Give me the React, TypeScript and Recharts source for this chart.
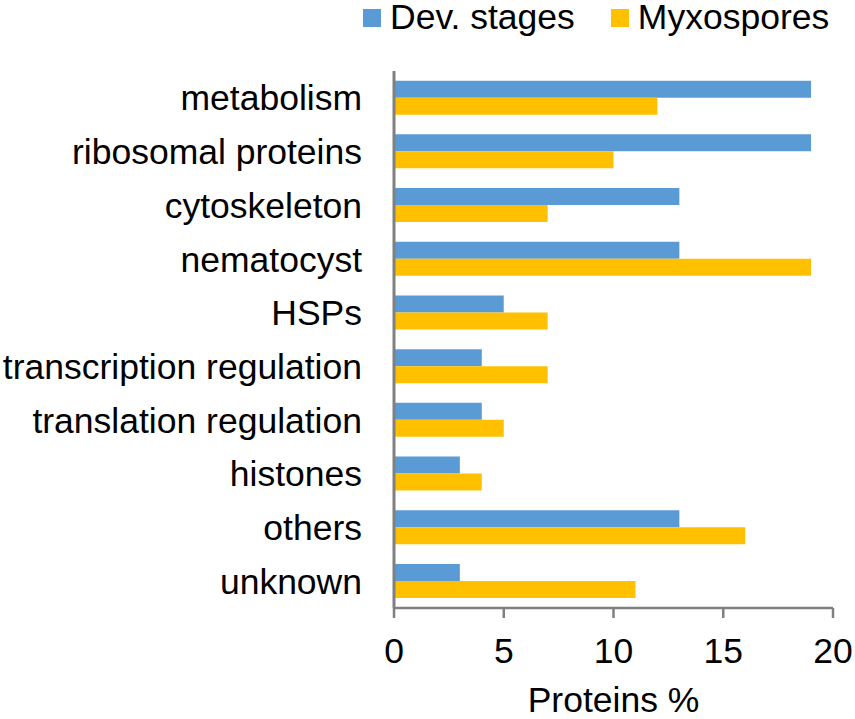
import React from "react";
import { Bar, BarChart, Legend, XAxis, YAxis } from "recharts";

const categories = [
  "metabolism",
  "ribosomal proteins",
  "cytoskeleton",
  "nematocyst",
  "HSPs",
  "transcription regulation",
  "translation regulation",
  "histones",
  "others",
  "unknown",
];
const devStages = [19, 19, 13, 13, 5, 4, 4, 3, 13, 3];
const myxospores = [12, 10, 7, 19, 7, 7, 5, 4, 16, 11];
const xTicks = [0, 5, 10, 15, 20];

const data = categories.map((name, i) => ({
  name,
  dev: devStages[i],
  myxo: myxospores[i],
}));

const FONT = '"Liberation Sans", Arial, sans-serif';
const AXIS = "#808080";
const FS = 35.5;

function LegendBox({ payload }: any) {
  return (
    <div
      style={{
        display: "flex",
        alignItems: "center",
        height: 36,
        paddingLeft: 363,
        fontFamily: FONT,
        fontSize: FS,
        lineHeight: 1,
        color: "#000",
      }}
    >
      {(payload || []).map((p: any, i: number) => (
        <div key={p.value} style={{ display: "flex", alignItems: "center", marginRight: i === 0 ? 36 : 0 }}>
          <span style={{ width: 18, height: 18, background: p.color, display: "inline-block", marginRight: 9 }} />
          <span>{p.value}</span>
        </div>
      ))}
    </div>
  );
}

export default function App() {
  return (
    <div style={{ position: "absolute", left: 0, top: 0, width: 855, height: 719, background: "#fff" }}>
      <BarChart
        width={855}
        height={719}
        data={data}
        layout="vertical"
        margin={{ top: 35, right: 22, left: 0, bottom: 0 }}
        barCategoryGap="18%"
        barGap={0}
        style={{ fontFamily: FONT }}
      >
        <Legend
          verticalAlign="top"
          align="left"
          content={<LegendBox />}
          wrapperStyle={{ top: 0, left: 0, width: 855, height: 36 }}
        />
        <XAxis
          type="number"
          domain={[0, 20]}
          ticks={xTicks}
          interval={0}
          height={111}
          stroke={AXIS}
          strokeWidth={2.5}
          tickSize={10}
          tickMargin={20}
          tick={{ fill: "#000", fontSize: FS, fontFamily: FONT }}
          label={{ value: "Proteins %", position: "insideBottom", offset: 7, fill: "#000", fontSize: FS, fontFamily: FONT }}
        />
        <YAxis
          type="category"
          dataKey="name"
          width={394}
          stroke={AXIS}
          strokeWidth={3}
          tickLine={false}
          tickSize={0}
          tickMargin={32}
          interval={0}
          tick={{ fill: "#000", fontSize: FS, fontFamily: FONT }}
        />
        <Bar dataKey="dev" name="Dev. stages" fill="#5B9BD5" isAnimationActive={false} />
        <Bar dataKey="myxo" name="Myxospores" fill="#FFC000" isAnimationActive={false} />
      </BarChart>
    </div>
  );
}
